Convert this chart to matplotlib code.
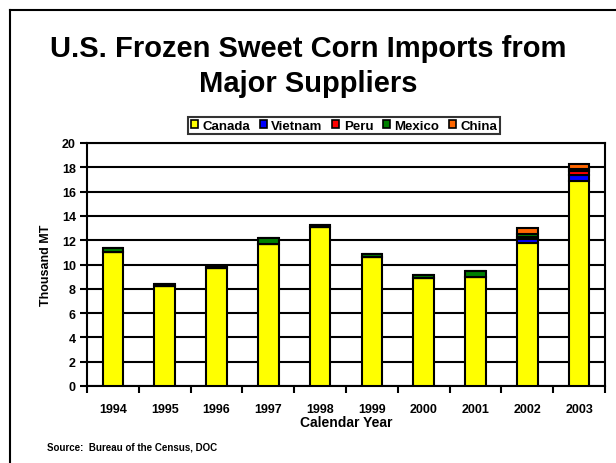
import numpy as np
import matplotlib
matplotlib.use("Agg")
import matplotlib.pyplot as plt
from matplotlib.lines import Line2D
from matplotlib.patches import Patch

plt.rcParams["font.family"] = ["Liberation Sans", "DejaVu Sans"]
plt.rcParams["font.weight"] = "bold"

years = ["1994", "1995", "1996", "1997", "1998", "1999", "2000", "2001", "2002", "2003"]
canada = [11.0, 8.25, 9.75, 11.65, 13.1, 10.65, 8.85, 9.0, 11.8, 16.9]
vietnam = [0, 0, 0, 0, 0, 0, 0, 0, 0.3, 0.5]
peru = [0, 0, 0, 0, 0, 0, 0, 0, 0.15, 0.3]
mexico = [0.35, 0.15, 0.15, 0.5, 0.18, 0.2, 0.3, 0.5, 0.25, 0.2]
china = [0, 0, 0, 0, 0, 0, 0, 0, 0.5, 0.35]

series = [("Canada", canada, "#FFFF00"),
          ("Vietnam", vietnam, "#0000FF"),
          ("Peru", peru, "#FF0000"),
          ("Mexico", mexico, "#008000"),
          ("China", china, "#FF6600")]

fig = plt.figure(figsize=(6.16, 4.64), dpi=100)
ax = fig.add_axes([87 / 616, 1 - 387 / 464, 518 / 616, 243 / 464])

x = np.arange(len(years))
bottom = np.zeros(len(years))
for name, vals, color in series:
    vals = np.array(vals)
    ax.bar(x, vals, width=0.4, bottom=bottom, color=color,
           edgecolor="black", linewidth=1.5, zorder=3)
    bottom += vals

ax.set_xlim(-0.5, len(years) - 0.5)
ax.set_ylim(0, 20)
ax.set_yticks(range(0, 21, 2))
ax.yaxis.grid(True, color="black", linewidth=1.5, zorder=0)
ax.set_xticks(x)
ax.set_xticklabels(years, fontsize=9, fontweight="bold")
ax.set_xticks(np.arange(-0.5, len(years), 1), minor=True)
ax.tick_params(axis="x", which="major", length=0, pad=12)
ax.tick_params(axis="x", which="minor", length=5, width=1.5, direction="out")
ax.tick_params(axis="y", length=5, width=1.5, direction="out", labelsize=9, pad=3)
for lab in ax.get_yticklabels():
    lab.set_fontweight("bold")
for sp in ax.spines.values():
    sp.set_linewidth(1.5)
    sp.set_color("black")

ax.set_ylabel("Thousand MT", fontsize=9, fontweight="bold", labelpad=7)
ax.set_xlabel("Calendar Year", fontsize=10, fontweight="bold", labelpad=0)

fig.text(308 / 616, 1 - 49 / 464, "U.S. Frozen Sweet Corn Imports from",
         ha="center", va="center", fontsize=21, fontweight="bold")
fig.text(308 / 616, 1 - 84 / 464, "Major Suppliers",
         ha="center", va="center", fontsize=21, fontweight="bold")
fig.text(47 / 616, 1 - 448 / 464, "Source:  Bureau of the Census, DOC",
         ha="left", va="center", fontsize=7, fontweight="bold")

handles = [Patch(facecolor=c, edgecolor="black", linewidth=1.2) for _, _, c in series]
leg = fig.legend(handles, [s[0] for s in series], loc="center",
                 bbox_to_anchor=(344 / 616, 1 - 126.5 / 464), ncol=5,
                 fontsize=9.5, frameon=True, fancybox=False,
                 handlelength=0.55, handleheight=0.55, handletextpad=0.35,
                 columnspacing=0.7, borderpad=0.2, borderaxespad=0)
leg.get_frame().set_edgecolor("black")
leg.get_frame().set_linewidth(1.5)
for t in leg.get_texts():
    t.set_fontweight("bold")

fig.add_artist(Line2D([10 / 616, 10 / 616], [0, 1 - 11 / 464], color="black",
                      linewidth=1.5, transform=fig.transFigure))
fig.add_artist(Line2D([10 / 616, 1], [1 - 11 / 464, 1 - 11 / 464], color="black",
                      linewidth=1.5, transform=fig.transFigure))

fig.savefig("out.png", dpi=100)
